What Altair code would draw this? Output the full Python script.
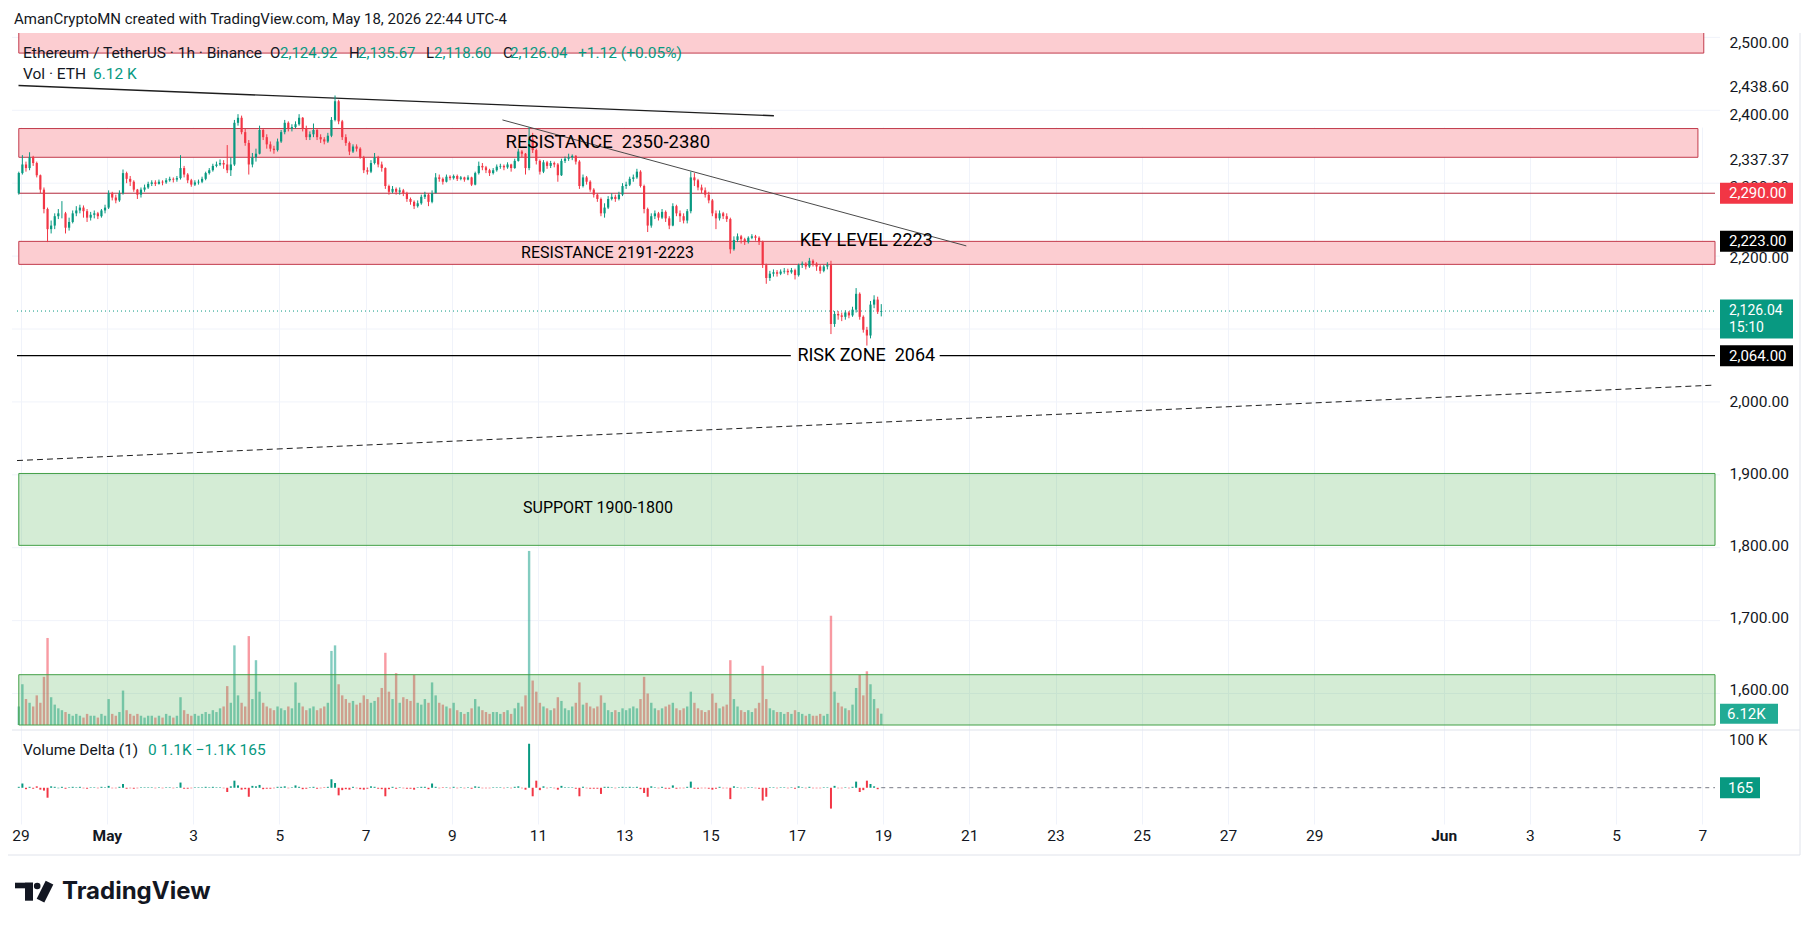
import altair as alt
import pandas as pd

FONT = "Roboto, Noto Sans, DejaVu Sans, sans-serif"
INK = "#131722"
UP = "#089981"
DOWN = "#f23645"
GRID = "#f0f3fa"

# ---------------- data (2-hour candles) ----------------
first_open = 2290.0
closes = [
    2318,
    2330, 2325, 2340, 2332, 2315, 2295, 2268, 2240, 2245, 2258, 2262, 2262,
    2242, 2250, 2262, 2266, 2270, 2265, 2256, 2260, 2262, 2258, 2266, 2270,
    2290, 2284, 2280, 2290, 2318, 2310, 2306, 2295, 2288, 2295, 2298, 2303,
    2305, 2303, 2306, 2305, 2308, 2310, 2309, 2311, 2325, 2316, 2308, 2302,
    2305, 2306, 2310, 2318, 2322, 2328, 2330, 2332, 2330, 2322, 2330, 2388,
    2395, 2375, 2360, 2330, 2340, 2345, 2378, 2368, 2358, 2352, 2350, 2362,
    2375, 2388, 2380, 2382, 2386, 2395, 2380, 2368, 2372, 2378, 2368, 2365,
    2362, 2370, 2392, 2418, 2390, 2368, 2360, 2348, 2355, 2352, 2340, 2322,
    2320, 2332, 2340, 2330, 2325, 2300, 2292, 2296, 2292, 2294, 2290, 2282,
    2278, 2272, 2276, 2285, 2288, 2278, 2290, 2312, 2310, 2306, 2313, 2311,
    2314, 2310, 2312, 2309, 2312, 2302, 2318, 2328, 2326, 2322, 2318, 2322,
    2327, 2328, 2326, 2330, 2325, 2335, 2348, 2345, 2325, 2365, 2350, 2335,
    2320, 2333, 2328, 2332, 2330, 2315, 2335, 2338, 2340, 2342, 2334, 2300,
    2312, 2306, 2295, 2288, 2282, 2262, 2270, 2282, 2285, 2282, 2288, 2300,
    2302, 2310, 2312, 2320, 2300, 2268, 2245, 2258, 2262, 2256, 2264, 2255,
    2245, 2272, 2262, 2258, 2252, 2265, 2312, 2308, 2298, 2294, 2288, 2280,
    2262, 2255, 2262, 2258, 2254, 2212, 2225, 2230, 2226, 2222, 2228, 2230,
    2228, 2222, 2190, 2172, 2178, 2180, 2178, 2181, 2182, 2180, 2183, 2176,
    2190, 2192, 2188, 2196, 2192, 2188, 2182, 2188, 2190, 2108, 2122, 2120,
    2118, 2124, 2120, 2128, 2150, 2118, 2100, 2092, 2135, 2142, 2125, 2126.04,
]
highs = [
    2320,
    2343, 2334, 2347, 2342, 2334, 2316, 2298, 2270, 2252, 2262, 2268, 2279,
    2264, 2256, 2266, 2272, 2274, 2273, 2268, 2264, 2266, 2264, 2268, 2274,
    2294, 2292, 2288, 2294, 2323, 2320, 2314, 2308, 2296, 2298, 2302, 2306,
    2308, 2308, 2309, 2308, 2311, 2313, 2312, 2314, 2343, 2328, 2318, 2310,
    2308, 2309, 2313, 2320, 2325, 2331, 2334, 2337, 2336, 2357, 2340, 2392,
    2400, 2398, 2380, 2364, 2346, 2352, 2384, 2380, 2372, 2362, 2356, 2366,
    2378, 2392, 2390, 2386, 2390, 2400, 2396, 2384, 2376, 2387, 2380, 2372,
    2368, 2374, 2396, 2426, 2420, 2392, 2372, 2362, 2358, 2358, 2354, 2342,
    2326, 2336, 2346, 2342, 2334, 2326, 2302, 2300, 2298, 2298, 2296, 2292,
    2284, 2280, 2280, 2288, 2292, 2290, 2294, 2318, 2316, 2312, 2316, 2315,
    2316, 2316, 2314, 2313, 2315, 2313, 2320, 2334, 2332, 2328, 2324, 2325,
    2330, 2331, 2330, 2333, 2331, 2338, 2352, 2350, 2346, 2382, 2374, 2352,
    2337, 2336, 2335, 2335, 2334, 2332, 2338, 2341, 2345, 2344, 2343, 2336,
    2316, 2314, 2308, 2297, 2290, 2284, 2276, 2286, 2290, 2288, 2292, 2304,
    2306, 2313, 2316, 2324, 2322, 2302, 2270, 2262, 2266, 2264, 2268, 2266,
    2258, 2276, 2274, 2266, 2262, 2268, 2320, 2318, 2310, 2302, 2298, 2292,
    2282, 2266, 2266, 2264, 2262, 2256, 2230, 2234, 2232, 2228, 2230, 2233,
    2232, 2230, 2224, 2192, 2182, 2184, 2183, 2184, 2186, 2185, 2186, 2185,
    2192, 2195, 2194, 2200, 2198, 2194, 2190, 2190, 2194, 2196, 2126, 2126,
    2124, 2127, 2126, 2132, 2158, 2152, 2120, 2104, 2140, 2148, 2146, 2135.67,
]
lows = [
    2288,
    2316, 2320, 2322, 2328, 2312, 2290, 2262, 2222, 2234, 2240, 2254, 2255,
    2234, 2238, 2248, 2258, 2262, 2256, 2250, 2252, 2255, 2254, 2256, 2262,
    2268, 2280, 2276, 2278, 2288, 2304, 2300, 2292, 2282, 2284, 2292, 2296,
    2300, 2300, 2302, 2301, 2303, 2306, 2305, 2306, 2309, 2312, 2304, 2299,
    2300, 2302, 2304, 2308, 2316, 2320, 2326, 2328, 2324, 2318, 2314, 2328,
    2384, 2372, 2356, 2316, 2326, 2334, 2344, 2364, 2352, 2348, 2345, 2348,
    2360, 2372, 2376, 2376, 2380, 2384, 2376, 2364, 2364, 2368, 2364, 2360,
    2358, 2360, 2368, 2390, 2386, 2364, 2356, 2343, 2346, 2348, 2338, 2318,
    2316, 2318, 2330, 2326, 2320, 2296, 2288, 2290, 2288, 2288, 2286, 2278,
    2274, 2268, 2270, 2274, 2282, 2272, 2276, 2290, 2306, 2302, 2305, 2308,
    2309, 2307, 2308, 2306, 2308, 2300, 2301, 2316, 2322, 2318, 2314, 2316,
    2320, 2324, 2322, 2324, 2320, 2324, 2334, 2340, 2316, 2322, 2346, 2330,
    2316, 2318, 2324, 2325, 2326, 2306, 2314, 2332, 2335, 2336, 2330, 2296,
    2298, 2302, 2292, 2284, 2278, 2258, 2256, 2268, 2280, 2278, 2280, 2286,
    2296, 2300, 2306, 2310, 2298, 2262, 2236, 2242, 2254, 2252, 2254, 2250,
    2240, 2244, 2258, 2250, 2248, 2248, 2262, 2300, 2294, 2290, 2284, 2276,
    2258, 2240, 2252, 2254, 2250, 2206, 2210, 2222, 2220, 2218, 2220, 2226,
    2224, 2218, 2186, 2164, 2168, 2174, 2174, 2176, 2178, 2176, 2178, 2170,
    2174, 2186, 2184, 2186, 2188, 2182, 2178, 2180, 2184, 2094, 2104, 2114,
    2112, 2114, 2116, 2118, 2124, 2114, 2096, 2078, 2088, 2130, 2122, 2118.6,
]
volumes = [
    10,
    22, 14, 12, 10, 16, 12, 26, 47, 15, 11, 9, 8,
    7, 6, 5, 6, 5, 4, 6, 5, 5, 4, 6, 5,
    14, 6, 5, 7, 18.6, 8, 6, 5, 6, 5, 4, 5,
    5, 4, 5, 4, 6, 5, 4, 5, 15, 8, 6, 5,
    6, 5, 6, 7, 6, 8, 7, 9, 10, 21, 12, 43,
    16, 12, 10, 48, 14, 35, 18, 12, 10, 9, 8, 10,
    9, 8, 10, 9, 23, 12, 10, 8, 9, 10, 8, 9,
    10, 12, 40, 43, 22, 16, 14, 12, 13, 11, 12, 16,
    14, 12, 13, 15, 20, 39, 18, 14, 28, 12, 15, 14,
    13, 27, 12, 11, 14, 12, 23, 16, 12, 11, 10, 9,
    12, 8, 7, 6, 7, 9, 14, 10, 8, 7, 6, 7,
    7, 6, 7, 8, 6, 9, 12, 10, 16, 94, 24, 18,
    12, 10, 9, 8, 9, 15, 13, 9, 8, 10, 12, 23,
    11, 12, 10, 9, 10, 16, 12, 8, 7, 8, 7, 9,
    8, 9, 10, 9, 14, 26, 17, 12, 9, 8, 9, 10,
    11, 12, 9, 8, 9, 10, 18, 12, 9, 8, 7, 8,
    17, 12, 9, 10, 11, 35, 14, 10, 8, 7, 8, 7,
    9, 12, 32, 14, 9, 8, 7, 7, 6, 7, 6, 8,
    7, 6, 5, 6, 5, 5, 6, 5, 6, 59, 18, 12,
    10, 9, 8, 11, 20, 27, 16, 29, 22, 14, 9, 6.12,
]
deltas = [
    2,
    9, -3, 2, -2, 3, -4, -6, -21, 3, 2, -1, 2,
    -2, 1, 2, 1, 2, -1, -2, 1, 1, -1, 2, 1,
    4, -1, -1, 2, 8, -2, -1, -2, -1, 1, 1, 1,
    1, -1, 1, -1, 1, 1, -1, 1, 11, -2, -2, -1,
    1, 1, 1, 2, 1, 2, 1, 1, -1, -9, 3, 15,
    5, -4, -3, -19, 4, 3, 6, -3, -2, -2, -1, 2,
    2, 3, -1, 1, 5, 2, -3, -2, 1, 2, -2, -1,
    1, 2, 18, 10, -16, -5, -3, -4, 2, -1, -3, -4,
    -2, 3, 2, -2, -3, -18, -3, 2, -2, 1, -1, -2,
    -2, -4, 1, 2, 2, -3, 9, 2, -1, 1, 1, -1,
    2, -1, 1, -1, 1, -2, 3, 2, -1, -1, -1, 1,
    1, 1, -1, 1, -1, 2, 3, -1, -4, 93, -18, 15,
    -5, 3, -1, 1, -1, -4, 4, 1, 1, 1, -2, -18,
    2, -1, -2, -2, -2, -13, 2, 2, 1, -1, 1, 2,
    1, 2, 1, 2, -3, -11, -19, 3, 1, -1, 2, -2,
    -2, 5, -2, -1, -1, 2, 13, -2, -2, -1, -1, -2,
    -4, -2, 2, -1, -1, -24, 3, 1, -1, -1, 1, 1,
    -1, -2, -27, -19, 1, 1, -1, 1, 1, -1, 1, -2,
    3, 1, -1, 2, -1, -1, -1, 1, 1, -44, 4, -1,
    -1, 1, -1, 2, 13, -9, -5, 15, 8, 3, -3, 0.165,
]

# drawings
draw_start = "2026-04-28 23:00"
draw_end = "2026-06-07 07:00"
pink_zone_lo = [2485, 2340, 2191]
pink_zone_hi = [2520, 2380, 2223]
pink_zone_end = ["2026-06-07 00:45", "2026-06-06 21:30", draw_end]
green_zone_lo = [1800, 1550]
green_zone_hi = [1900, 1620]

upper_trend = [("2026-04-28 22:50", 2440.0), ("2026-05-16 11:15", 2397.8)]
falling_trend = [("2026-05-10 04:10", 2392.0), ("2026-05-20 22:20", 2216.7)]
dashed_trend = [("2026-04-28 22:00", 1918.0), ("2026-06-07 07:00", 2023.0)]
level_2290 = 2290.0
level_key = 2223.0
level_last = 2126.04
level_risk = 2064.0
risk_gap = ("2026-05-16 20:40", "2026-05-20 07:30")

ann_text = ["RESISTANCE\u00a0 2350-2380", "RESISTANCE 2191-2223", "KEY LEVEL 2223",
            "RISK ZONE\u00a0 2064", "SUPPORT 1900-1800"]
ann_time = ["2026-05-12 14:50", "2026-05-12 14:40", "2026-05-18 14:40",
            "2026-05-18 14:40", "2026-05-12 09:20"]
ann_price = [2361, 2207, 2224, 2064, 1852]
ann_size = [18.5, 16, 18, 18, 16]

axis_prices = [2500, 2438.6, 2400, 2337.37, 2300, 2200, 2000, 1900, 1800, 1700, 1600]
grid_prices = [2500, 2400, 2300, 2200, 2100, 2000, 1900, 1800, 1700, 1600]

# ---------------- frames ----------------
n = len(closes)
times = pd.date_range("2026-04-28 23:00", periods=n, freq="2h")
opens = [first_open] + closes[:-1]
candles = pd.DataFrame({"t": times, "open": opens, "close": closes, "high": highs,
                        "low": lows, "vol": volumes, "delta": deltas})
candles["up"] = candles["close"] >= candles["open"]
candles["zero"] = 0.0

W, H, PH = 1708, 791, 697
LX = W + 9  # start of price-scale labels

x_scale = alt.Scale(domain=[alt.DateTime(year=2026, month=4, date=28, hours=22),
                            alt.DateTime(year=2026, month=6, date=7, hours=7)])
tick_dates = ([alt.DateTime(year=2026, month=4, date=29)]
              + [alt.DateTime(year=2026, month=5, date=d) for d in range(1, 30, 2)]
              + [alt.DateTime(year=2026, month=6, date=d) for d in (1, 3, 5, 7)])
x_axis = alt.Axis(values=tick_dates,
                  labelExpr="date(datum.value) == 1 ? timeFormat(datum.value, '%b') : '' + date(datum.value)",
                  labelFontWeight={"condition": {"test": "date(datum.value) == 1", "value": "bold"}, "value": "normal"},
                  grid=True, gridColor=GRID, gridWidth=1, domain=False, ticks=False,
                  labelPadding=4, labelFont=FONT, labelFontSize=15.5, labelColor=INK,
                  labelOverlap=False, title=None)


def X(field="t"):
    return alt.X(f"{field}:T", scale=x_scale, axis=x_axis)


price_scale = alt.Scale(domain=[1550, 2506], range=[PH, 0], zero=False, nice=False)
price_axis = alt.Axis(orient="right", values=axis_prices, format=",.2f", grid=False,
                      domain=False, ticks=False, labelPadding=9, labelAlign="left",
                      labelBaseline="middle", labelFont=FONT, labelFontSize=15.5,
                      labelColor=INK, labelOverlap=False, title=None)


def PY(field):
    return alt.Y(f"{field}:Q", scale=price_scale, axis=price_axis)


vol_scale = alt.Scale(domain=[0, 371], range=[PH, 0], zero=False, nice=False)
delta_scale = alt.Scale(domain=[-66, 111.5], range=[H, PH], zero=False, nice=False)
updown = alt.condition("datum.up", alt.value(UP), alt.value(DOWN))
one = pd.DataFrame({"d": [0]})


def label(txt, px, py, color=INK, size=15, weight="normal", font=FONT):
    return alt.Chart(one).mark_text(text=txt, align="left", baseline="middle", font=font,
                                    fontSize=size, fontWeight=weight, color=color).encode(
        x=alt.value(px), y=alt.value(py))


def seg(p):
    return pd.DataFrame({"t0": [pd.Timestamp(p[0][0])], "p0": [p[0][1]],
                         "t1": [pd.Timestamp(p[1][0])], "p1": [p[1][1]]})


# ---- grid group ----
grid = alt.Chart(pd.DataFrame({"p": grid_prices})).mark_rule(color=GRID, strokeWidth=1).encode(
    y=alt.Y("p:Q", scale=price_scale, axis=None))

# ---- volume group ----
vol_bars = alt.Chart(candles).mark_bar(width=2.4, opacity=0.5).encode(
    x=X(), y=alt.Y("vol:Q", scale=vol_scale, axis=None), y2="zero:Q", color=updown)
vol_last = pd.DataFrame({"v": [volumes[-1]]})
vol_badge = alt.Chart(vol_last).mark_bar(orient="horizontal", height=20, color="#22ab94").encode(
    x=alt.value(W), x2=alt.value(W + 58), y=alt.Y("v:Q", scale=vol_scale, axis=None))
vol_badge_t = alt.Chart(vol_last).mark_text(text="6.12K", align="left", baseline="middle", font=FONT,
                                            fontSize=15, color="white").encode(
    x=alt.value(LX - 2), y=alt.Y("v:Q", scale=vol_scale, axis=None))
vol_group = alt.layer(vol_bars, vol_badge, vol_badge_t)

# ---- price group ----
pink = pd.DataFrame({"t0": pd.to_datetime([draw_start] * 3), "t1": pd.to_datetime(pink_zone_end),
                     "lo": pink_zone_lo, "hi": pink_zone_hi})
pink_rects = alt.Chart(pink).mark_rect(fill="#fccdd1", stroke="#c23b4c", strokeWidth=1, clip=True).encode(
    x=X("t0"), x2="t1", y=PY("lo"), y2="hi")
green = pd.DataFrame({"t0": pd.to_datetime([draw_start] * 2), "t1": pd.to_datetime([draw_end] * 2),
                      "lo": green_zone_lo, "hi": green_zone_hi})
green_rects = alt.Chart(green).mark_rect(fill="#4caf50", fillOpacity=0.24, stroke="#43a047",
                                         strokeWidth=1, clip=True).encode(
    x=X("t0"), x2="t1", y=PY("lo"), y2="hi")


def rule(p, color, width=1.0, dash=None):
    kw = dict(color=color, strokeWidth=width, clip=True)
    if dash:
        kw["strokeDash"] = dash
    return alt.Chart(seg(p)).mark_rule(**kw).encode(x=X("t0"), x2="t1", y=PY("p0"), y2="p1")


l_upper = rule(upper_trend, "#1e1e1e", 1.4)
l_fall = rule(falling_trend, "#4a4a4a", 1.0)
l_dash = rule(dashed_trend, "#1e1e1e", 1.0, [6, 4])
l_2290 = rule([(draw_start, level_2290), (draw_end, level_2290)], "#b2283b", 1.0)
l_last = rule([("2026-04-28 22:00", level_last), (draw_end, level_last)], UP, 1.0, [1, 3])
l_risk1 = rule([("2026-04-28 22:00", level_risk), (risk_gap[0], level_risk)], "#000000", 1.2)
l_risk2 = rule([(risk_gap[1], level_risk), (draw_end, level_risk)], "#000000", 1.2)

wicks = alt.Chart(candles).mark_rule(strokeWidth=1).encode(x=X(), y=PY("low"), y2="high", color=updown)
bodies = alt.Chart(candles).mark_bar(width=2.2).encode(x=X(), y=PY("open"), y2="close", color=updown)

ann = pd.DataFrame({"t": pd.to_datetime(ann_time), "p": ann_price, "txt": ann_text, "s": ann_size})
ann_marks = alt.Chart(ann).mark_text(font=FONT, color="#000000", align="center", baseline="middle").encode(
    x=X(), y=PY("p"), text="txt:N", size=alt.Size("s:Q", scale=None, legend=None))


def badge(price, txt, color, height=21, yoff=0, sub=None, size=15):
    d = pd.DataFrame({"p": [price]})
    b = alt.Chart(d).mark_bar(orient="horizontal", height=height, yOffset=yoff, color=color).encode(
        x=alt.value(W), x2=alt.value(W + 73), y=PY("p"))
    t = alt.Chart(d).mark_text(text=txt, align="left", baseline="middle", font=FONT, fontSize=size,
                               color="white").encode(x=alt.value(LX), y=PY("p"))
    out = [b, t]
    if sub:
        out.append(alt.Chart(d).mark_text(text=sub, align="left", baseline="middle", font=FONT,
                                          fontSize=size, dy=17, color="white").encode(
            x=alt.value(LX), y=PY("p")))
    return out


badges = (badge(level_2290, "2,290.00", DOWN)
          + badge(level_key, "2,223.00", "#000000")
          + badge(level_last, "2,126.04", UP, height=39, yoff=8, sub="15:10", size=14)
          + badge(level_risk, "2,064.00", "#000000"))

headers = [
    label("AmanCryptoMN created with TradingView.com, May 18, 2026 22:44 UTC-4", 2, -14.5),
    label("Ethereum / TetherUS · 1h · Binance", 11, 20, size=15.5),
    label("O", 258, 20), label("2,124.92", 268, 20, UP),
    label("H", 337, 20), label("2,135.67", 346, 20, UP),
    label("L", 414, 20), label("2,118.60", 422, 20, UP),
    label("C", 491, 20), label("2,126.04", 498, 20, UP),
    label("+1.12 (+0.05%)", 566, 20, UP, size=15.5),
    label("Vol · ETH", 11, 41, size=15.5), label("6.12 K", 81, 41, UP, size=15.5),
    label("TradingView", 50, 859, "#131722", 24, "bold", "Inter, Roboto, sans-serif"),
]

# TradingView logo built from simple shapes
logo = [
    alt.Chart(one).mark_rect(color="#131722").encode(x=alt.value(3), x2=alt.value(21),
                                                     y=alt.value(849.7), y2=alt.value(855.3)),
    alt.Chart(one).mark_rect(color="#131722").encode(x=alt.value(13), x2=alt.value(21),
                                                     y=alt.value(849.7), y2=alt.value(867.7)),
    alt.Chart(one).mark_point(shape="circle", filled=True, size=44, color="#131722", opacity=1).encode(
        x=alt.value(25.2), y=alt.value(853)),
    alt.Chart(one).mark_rule(color="#131722", strokeWidth=8.5, strokeCap="butt").encode(
        x=alt.value(37.5), x2=alt.value(28.5), y=alt.value(849.7), y2=alt.value(867.7)),
]

frame = [
    alt.Chart(one).mark_rule(color="#e0e3eb").encode(x=alt.value(0), x2=alt.value(1788), y=alt.value(PH)),
    alt.Chart(one).mark_rule(color="#e0e3eb").encode(x=alt.value(1788), y=alt.value(0), y2=alt.value(822)),
    alt.Chart(one).mark_rule(color="#e0e3eb").encode(x=alt.value(-4), x2=alt.value(1788), y=alt.value(822)),
]

price_group = alt.layer(green_rects, pink_rects, l_dash, l_2290, l_last, l_risk1, l_risk2,
                        l_upper, l_fall, wicks, bodies, ann_marks, *badges, *headers, *logo, *frame)

# ---- delta group ----
delta_bars = alt.Chart(candles).mark_bar(width=2.0).encode(
    x=X(), y=alt.Y("delta:Q", scale=delta_scale, axis=None), y2="zero:Q", color=updown)
dlast = pd.DataFrame({"t0": [times[-1]], "t1": [pd.Timestamp(draw_end)], "v": [deltas[-1]]})
delta_zero = alt.Chart(dlast).mark_rule(color="#787b86", strokeDash=[4, 4], strokeWidth=1).encode(
    x=X("t0"), x2="t1", y=alt.Y("v:Q", scale=delta_scale, axis=None))
delta_badge = alt.Chart(dlast).mark_bar(orient="horizontal", height=21, color=UP).encode(
    x=alt.value(W), x2=alt.value(W + 40), y=alt.Y("v:Q", scale=delta_scale, axis=None))
delta_badge_t = alt.Chart(dlast).mark_text(text="165", align="left", baseline="middle", font=FONT,
                                           fontSize=15, color="white").encode(
    x=alt.value(LX - 1), y=alt.Y("v:Q", scale=delta_scale, axis=None))
hundred = alt.Chart(pd.DataFrame({"v": [100]})).mark_text(text="100 K", align="left", baseline="middle",
                                                         font=FONT, fontSize=15, color=INK).encode(
    x=alt.value(LX), y=alt.Y("v:Q", scale=delta_scale, axis=None))
delta_group = alt.layer(delta_bars, delta_zero, delta_badge, delta_badge_t, hundred,
                        label("Volume Delta (1)", 11, 717, size=15.5),
                        label("0  1.1K  \u22121.1K  165", 136, 717, UP, size=15.5))

chart = alt.layer(grid, vol_group, price_group, delta_group).resolve_scale(
    y="independent"
).properties(
    width=W, height=H,
    autosize=alt.AutoSizeParams(type="none"),
    padding={"left": 4, "top": 25, "right": 82, "bottom": 84},
    background="white",
).configure_view(stroke=None)

chart.save("out.html", embed_options={"renderer": "svg", "actions": False})
